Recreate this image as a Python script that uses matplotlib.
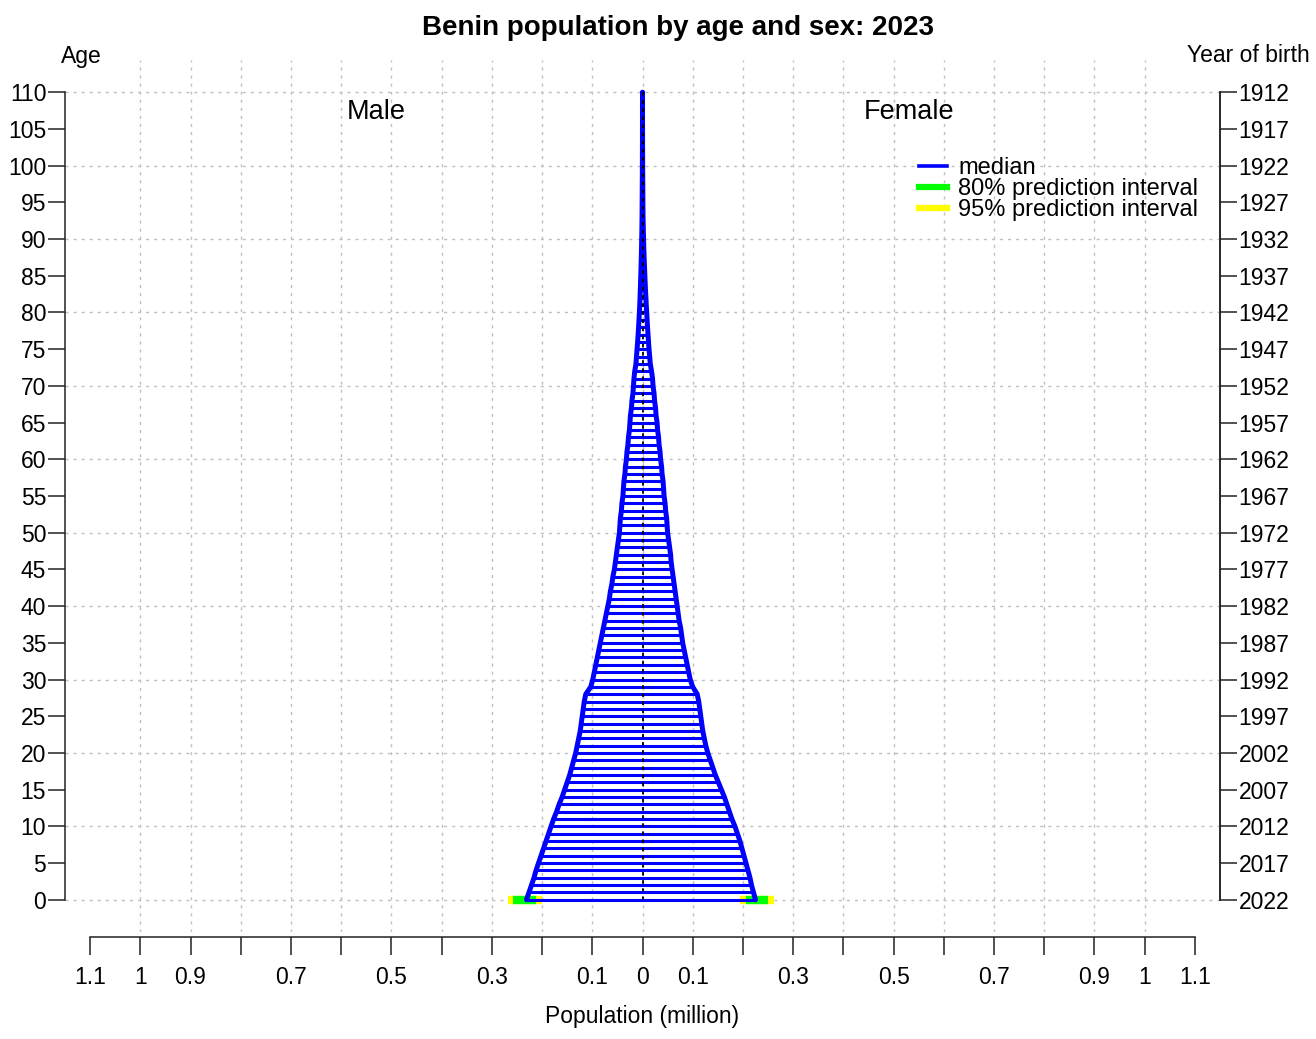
"""Benin population pyramid, 2023 (single-year ages, median with prediction intervals)."""

import matplotlib

matplotlib.use("Agg")
import matplotlib.pyplot as plt
import numpy as np

plt.rcParams["font.family"] = ["Liberation Sans", "DejaVu Sans"]

# population in millions, ages 0..110
ages = list(range(0, 111))
male = [
    0.231, 0.226, 0.221, 0.216, 0.212, 0.207, 0.202, 0.197, 0.192, 0.187,
    0.182, 0.177, 0.171, 0.166, 0.160, 0.155, 0.150, 0.145, 0.141, 0.137,
    0.133, 0.130, 0.127, 0.124, 0.122, 0.120, 0.118, 0.116, 0.113, 0.103,
    0.099, 0.096, 0.093, 0.090, 0.087, 0.084, 0.081, 0.078, 0.075, 0.072,
    0.069, 0.066, 0.064, 0.061, 0.059, 0.056, 0.054, 0.052, 0.050, 0.048,
    0.046, 0.045, 0.044, 0.042, 0.041, 0.039, 0.038, 0.037, 0.035, 0.034,
    0.032, 0.031, 0.029, 0.028, 0.026, 0.025, 0.024, 0.022, 0.021, 0.019,
    0.018, 0.017, 0.0155, 0.013, 0.012, 0.0108, 0.0097, 0.0087, 0.0078, 0.007,
    0.0062, 0.0055, 0.0049, 0.0044, 0.0039, 0.0034, 0.003, 0.0026, 0.0022, 0.0019,
    0.0016, 0.0013, 0.0011, 0.0009, 0.0008, 0.0007, 0.0006, 0.0005, 0.0004, 0.0003,
    0.00025, 0.0002, 0.00015, 0.0001, 0.00008, 0.00006, 0.00004, 0.00003, 0.00002, 0.00001,
    0.00001,
]
female = [
    0.225, 0.221, 0.217, 0.214, 0.210, 0.206, 0.202, 0.198, 0.194, 0.189,
    0.184, 0.178, 0.173, 0.168, 0.163, 0.157, 0.151, 0.145, 0.140, 0.135,
    0.130, 0.126, 0.123, 0.120, 0.118, 0.116, 0.114, 0.112, 0.109, 0.100,
    0.095, 0.092, 0.089, 0.086, 0.083, 0.080, 0.078, 0.076, 0.073, 0.071,
    0.069, 0.067, 0.065, 0.063, 0.061, 0.059, 0.057, 0.056, 0.054, 0.052,
    0.050, 0.049, 0.048, 0.046, 0.045, 0.043, 0.042, 0.041, 0.039, 0.038,
    0.036, 0.035, 0.033, 0.032, 0.030, 0.029, 0.027, 0.026, 0.024, 0.023,
    0.021, 0.020, 0.018, 0.0155, 0.0143, 0.013, 0.012, 0.011, 0.010, 0.0092,
    0.0084, 0.0075, 0.0068, 0.006, 0.0053, 0.0047, 0.0041, 0.0035, 0.003, 0.0025,
    0.0021, 0.0017, 0.0014, 0.0011, 0.0009, 0.0008, 0.0007, 0.0006, 0.0005, 0.0004,
    0.0003, 0.00025, 0.0002, 0.00015, 0.0001, 0.00008, 0.00006, 0.00004, 0.00003, 0.00002,
    0.00001,
]

# prediction intervals for the projected age group (age 0)
pi_age = 0
male_pi80 = (0.212, 0.257)
male_pi95 = (0.200, 0.267)
female_pi80 = (0.207, 0.249)
female_pi95 = (0.195, 0.261)

xticks = [-1.1, -1.0, -0.9, -0.8, -0.7, -0.6, -0.5, -0.4, -0.3, -0.2, -0.1, 0.0,
          0.1, 0.2, 0.3, 0.4, 0.5, 0.6, 0.7, 0.8, 0.9, 1.0, 1.1]
xtick_labels = ["1.1", "1", "0.9", "", "0.7", "", "0.5", "", "0.3", "", "0.1", "0",
                "0.1", "", "0.3", "", "0.5", "", "0.7", "", "0.9", "1", "1.1"]
age_ticks = list(range(0, 111, 5))
birth_year_labels = [str(2022 - a) for a in age_ticks]

W, H = 1316, 1039
fig = plt.figure(figsize=(W / 100, H / 100), dpi=100)
ax = fig.add_axes([65 / W, (H - 932) / H, (1220 - 65) / W, (932 - 60) / H])

grid_style = dict(color="#c0c0c0", lw=1.0, linestyle=(0, (2.2, 3.6)), zorder=0)
for gx in np.arange(-10, 11) / 10:
    ax.axvline(gx, **grid_style)
for gy in range(0, 111, 10):
    ax.axhline(gy, **grid_style)

m = np.array(male)
f = np.array(female)

# prediction intervals
ax.hlines(pi_age, -male_pi95[1], -male_pi95[0], color="#ffff00", lw=6, zorder=2)
ax.hlines(pi_age, -male_pi80[1], -male_pi80[0], color="#00ff00", lw=6, zorder=3)
ax.hlines(pi_age, female_pi95[0], female_pi95[1], color="#ffff00", lw=6, zorder=2)
ax.hlines(pi_age, female_pi80[0], female_pi80[1], color="#00ff00", lw=6, zorder=3)

# median pyramid
ax.hlines(ages, -m, f, color="blue", lw=2.2, zorder=4)
ax.plot(-m, ages, color="blue", lw=3.6, solid_capstyle="round", zorder=5)
ax.plot(f, ages, color="blue", lw=3.6, solid_capstyle="round", zorder=5)
ax.vlines(0, 0, 110, color="black", lw=1.3, linestyle=(0, (2, 2.5)), zorder=6)

ax.set_xlim(-1.15, 1.15)
ax.set_ylim(-4.4, 114.4)

ax.spines["top"].set_visible(False)
ax.spines["left"].set_bounds(0, 110)
ax.spines["right"].set_bounds(0, 110)
ax.spines["bottom"].set_bounds(-1.1, 1.1)
ax.spines["bottom"].set_position(("outward", 3.6))
for s in ("left", "right", "bottom"):
    ax.spines[s].set_color("#222222")
    ax.spines[s].set_linewidth(1.1)

ax.set_xticks(xticks)
ax.set_xticklabels(xtick_labels)
ax.set_yticks(age_ticks)
ax.set_yticklabels([str(a) for a in age_ticks])
ax.tick_params(axis="y", length=12.5, width=1.1, color="#222222", pad=1, labelsize=16.5)
ax.tick_params(axis="x", length=13, width=1.1, color="#222222", pad=8, labelsize=16.5)

ax2 = ax.twinx()
ax2.set_ylim(ax.get_ylim())
ax2.set_yticks(age_ticks)
ax2.set_yticklabels(birth_year_labels)
ax2.tick_params(axis="y", length=12.5, width=1.1, color="#222222", pad=1, labelsize=16.5)
for s in ("top", "left", "bottom"):
    ax2.spines[s].set_visible(False)
ax2.spines["right"].set_bounds(0, 110)
ax2.spines["right"].set_color("#222222")
ax2.spines["right"].set_linewidth(1.1)

ax.text(-0.53, 107.3, "Male", ha="center", va="center", fontsize=19.5)
ax.text(0.53, 107.3, "Female", ha="center", va="center", fontsize=19.5)

handles = [
    plt.Line2D([], [], color="blue", lw=2.6),
    plt.Line2D([], [], color="#00ff00", lw=4.5),
    plt.Line2D([], [], color="#ffff00", lw=4.5),
]
ax.legend(handles, ["median", "80% prediction interval", "95% prediction interval"],
          loc="upper left", bbox_to_anchor=(0.7395, 0.8885), frameon=False,
          fontsize=17, labelspacing=-0.05, handlelength=1.2, handletextpad=0.45,
          borderpad=0, borderaxespad=0)

fig.text(678 / W, 1 - 28 / H, "Benin population by age and sex: 2023",
         ha="center", va="center", fontsize=20, fontweight="bold")
fig.text(81 / W, 1 - 56 / H, "Age", ha="center", va="center", fontsize=16.5)
fig.text(1248 / W, 1 - 56 / H, "Year of birth", ha="center", va="center", fontsize=16.5)
fig.text(642 / W, 1 - 1016 / H, "Population (million)", ha="center", va="center", fontsize=16.5)

fig.savefig("out.png", dpi=100)
